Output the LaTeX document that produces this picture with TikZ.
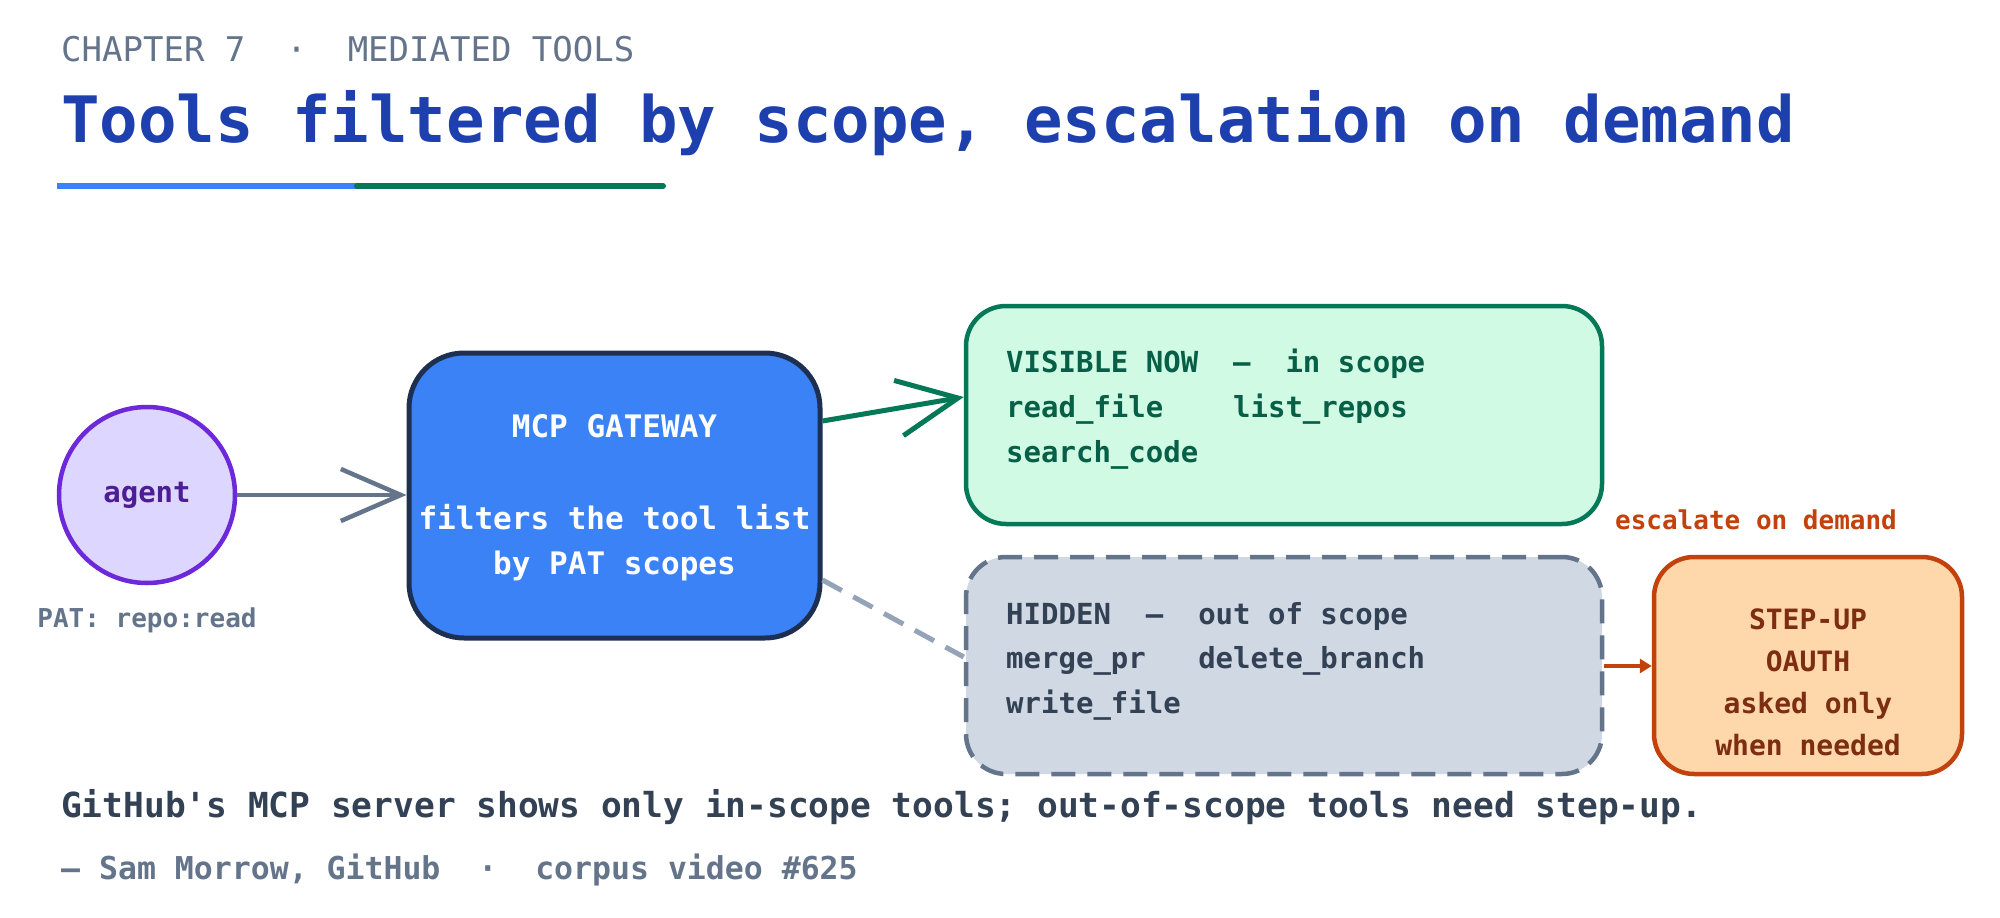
\documentclass[tikz,border=0pt]{standalone}
\usepackage{fontspec}
\setmainfont{DejaVu Sans Mono}
\usetikzlibrary{arrows.meta}
\definecolor{navy}{HTML}{1E40AF}
\definecolor{slate}{HTML}{334155}
\definecolor{gray5}{HTML}{64748B}
\definecolor{gateblue}{HTML}{3B82F6}
\definecolor{gateborder}{HTML}{1E3050}
\definecolor{grn}{HTML}{047857}
\definecolor{grnfill}{HTML}{D1FAE5}
\definecolor{grntext}{HTML}{065F46}
\definecolor{hidfill}{HTML}{CFD8E3}
\definecolor{orng}{HTML}{C2410C}
\definecolor{orfill}{HTML}{FED7AA}
\definecolor{ortext}{HTML}{7C2D12}
\definecolor{purp}{HTML}{6D28D9}
\definecolor{purpfill}{HTML}{DDD6FE}
\definecolor{purptext}{HTML}{4C1D95}
\definecolor{dashgray}{HTML}{94A3B8}
\tikzset{
 txt/.style={anchor=base west,inner sep=0pt,font=\fontsize{29}{34}\selectfont\bfseries},
 box/.style={rounded corners=40pt,line width=4.5pt},
}
\begin{document}
\begin{tikzpicture}[x=1pt,y=-1pt]
\useasboundingbox[fill=white] (0,0) rectangle (2000,918);
\node[txt,text=gray5,font=\fontsize{34}{38}\selectfont] (chap) at (61,61) {CHAPTER 7 \ · \ MEDIATED TOOLS};
\node[txt,text=navy,font=\fontsize{64}{70}\selectfont\bfseries] (title) at (61,142) {Tools filtered by scope, escalation on demand};
\draw[line width=6pt,gateblue] (57,186) -- (357,186);
\draw[line width=6pt,grn,line cap=round] (357,186) -- (663,186);
% agent
\node[circle,draw=purp,fill=purpfill,line width=4.5pt,minimum size=176pt,inner sep=0pt,text=purptext,font=\fontsize{29}{34}\selectfont\bfseries] (agent) at (147,495) {agent};
\node[anchor=center,text=gray5,font=\fontsize{26}{30}\selectfont\bfseries] (pat) at (147,620) {PAT: repo:read};
% gateway
\node[box,rounded corners=55pt,draw=gateborder,fill=gateblue,line width=5pt,minimum width=411pt,minimum height=285pt] (gw) at (614.5,495.5) {};
\node[text=white,font=\fontsize{31}{45}\selectfont\bfseries] (gw1) at (614.5,426) {MCP GATEWAY};
\node[text=white,font=\fontsize{31}{45}\selectfont\bfseries,align=center] (gw2) at (614.5,543) {filters the tool list\\by PAT scopes};
% visible
\node[box,draw=grn,fill=grnfill,minimum width=636pt,minimum height=218pt] (vis) at (1284,415) {};
\node[txt,text=grntext] (v1) at (1006,372) {VISIBLE NOW \ – \ in scope};
\node[txt,text=grntext] (v2) at (1006,417) {read\_file \ \ \ list\_repos};
\node[txt,text=grntext] (v3) at (1006,462) {search\_code};
% hidden
\node[box,draw=gray5,fill=hidfill,dashed,dash pattern=on 24pt off 12pt,minimum width=636pt,minimum height=217pt] (hid) at (1284,665.5) {};
\node[txt,text=slate] (h1) at (1006,624) {HIDDEN \ – \ out of scope};
\node[txt,text=slate] (h2) at (1006,668) {merge\_pr \ \ delete\_branch};
\node[txt,text=slate] (h3) at (1006,713) {write\_file};
% step up
\node[box,draw=orng,fill=orfill,minimum width=308pt,minimum height=217pt] (su) at (1808,665.5) {};
\node[text=ortext,font=\fontsize{28}{42}\selectfont\bfseries,align=center] (su1) at (1808,682) {STEP-UP\\OAUTH\\asked only\\when needed};
\node[text=orng,font=\fontsize{26}{30}\selectfont\bfseries] (esc) at (1756,520) {escalate on demand};
% connectors
\draw[gray5,line width=4.5pt,-{Straight Barb[length=60pt,width=52pt,line width=4.5pt]}] (agent.east) -- (gw.west|-agent.east);
\draw[grn,line width=5pt,-{Straight Barb[length=60pt,width=56pt,line width=5pt]}] (gw.east|-0,421) -- (vis.west|-0,397);
\draw[dashgray,line width=5pt,dash pattern=on 22pt off 13pt] (gw.east|-0,580) -- (hid.west|-0,657);
\draw[orng,line width=4.5pt,-{Triangle[length=12pt,width=14pt]}] (hid.east|-0,666) -- (su.west|-0,666);
% footer
\node[txt,text=slate,font=\fontsize{34.5}{38}\selectfont\bfseries] (foot) at (61,817) {GitHub\textquotesingle s MCP server shows only in-scope tools; out-of-scope tools need step-up.};
\node[txt,text=gray5,font=\fontsize{31.5}{34}\selectfont\bfseries] (cite) at (61,879) {— Sam Morrow, GitHub \ · \ corpus video \#625};
\end{tikzpicture}
\end{document}
